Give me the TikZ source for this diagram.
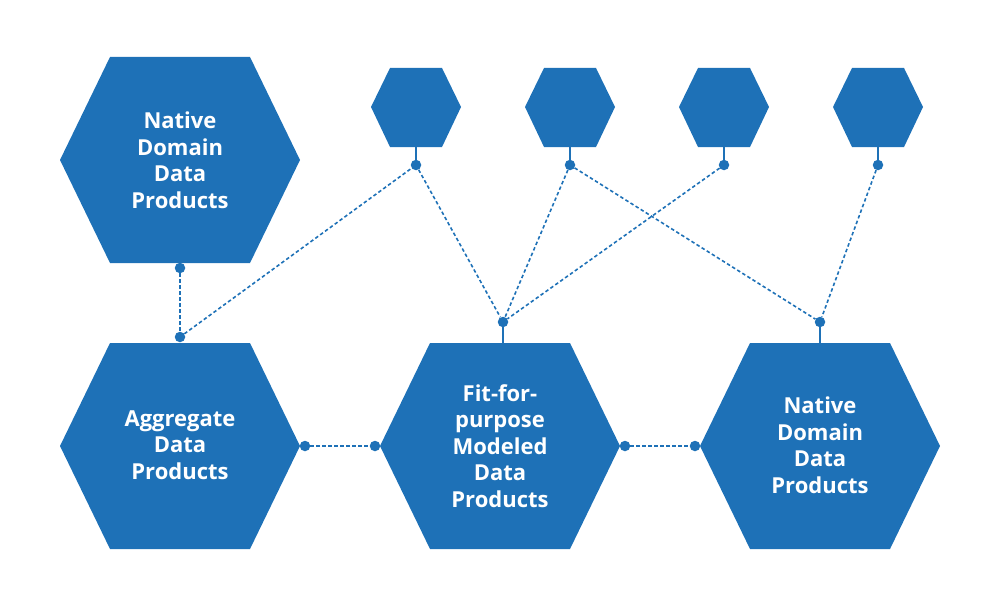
\documentclass[tikz,border=0pt]{standalone}
\usepackage{fontspec}
\setmainfont{Open Sans}
\usepackage{tikz}
\usetikzlibrary{calc}
\definecolor{hexblue}{RGB}{30,113,183}

\begin{document}
\begin{tikzpicture}[x=1pt,y=-1pt]
\tikzstyle{dot}=[circle,fill=hexblue,minimum size=10.5pt,inner sep=0pt]
\tikzstyle{hexlabel}=[text=white,font=\bfseries\fontsize{22}{26.5}\selectfont,align=center]
\tikzstyle{link}=[hexblue,line width=1.6pt,dash pattern=on 3.5pt off 2.5pt]
\tikzstyle{stem}=[hexblue,line width=2pt]
\useasboundingbox (0,0) rectangle (1000,607);
% big hexagons
\foreach \name/\cx/\cy in {nat1/180/160, agg/180/446, fit/500/446, nat2/820/446}{
	\fill[hexblue] ({\cx-120},\cy) -- ({\cx-70},{\cy-103}) -- ({\cx+70},{\cy-103})
		-- ({\cx+120},\cy) -- ({\cx+70},{\cy+103}) -- ({\cx-70},{\cy+103}) -- cycle;
	\coordinate (\name-top) at (\cx,{\cy-103});
}
% small hexagons
\foreach \name/\cx in {s1/416, s2/570, s3/724, s4/878}{
	\fill[hexblue] ({\cx-45},107) -- ({\cx-26},68) -- ({\cx+26},68)
		-- ({\cx+45},107) -- ({\cx+26},147) -- ({\cx-26},147) -- cycle;
	\coordinate (\name) at (\cx,147);
}
\node[hexlabel] (nat1) at (180,160) {Native\\Domain\\Data\\Products};
\node[hexlabel] (agg) at (180,445) {Aggregate\\Data\\Products};
\node[hexlabel] (fit) at (500,446) {Fit-for-\\purpose\\Modeled\\Data\\Products};
\node[hexlabel] (nat2) at (820,445) {Native\\Domain\\Data\\Products};
\foreach \name/\point in {
	d0/{180,268},
	d1/{180,337},
	d2/{416,165},
	d3/{570,165},
	d4/{724,165},
	d5/{878,165},
	d6/{503,322},
	d7/{820,322},
	d8/{305,446},
	d9/{375,446},
	d10/{625,446},
	d11/{695,446}}
	\node[dot] (\name) at (\point) {};
\coordinate (fit-stem) at (503,343);
% stems
\draw[stem] (s1) -- (d2);
\draw[stem] (s2) -- (d3);
\draw[stem] (s3) -- (d4);
\draw[stem] (s4) -- (d5);
\draw[stem] (fit-stem) -- (d6);
\draw[stem] (nat2-top) -- (d7);
% dashed links
\draw[link] (d0) -- (d1);
\draw[link] (d1) -- (d2);
\draw[link] (d2) -- (d6);
\draw[link] (d3) -- (d6);
\draw[link] (d4) -- (d6);
\draw[link] (d3) -- (d7);
\draw[link] (d5) -- (d7);
\draw[link] (d8) -- (d9);
\draw[link] (d10) -- (d11);
\end{tikzpicture}
\end{document}
